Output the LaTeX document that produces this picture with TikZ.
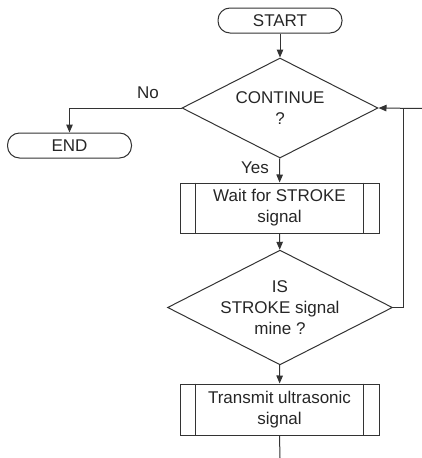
\documentclass[tikz,border=0pt]{standalone}
\usepackage{fontspec}
\setmainfont{Liberation Sans}
\usetikzlibrary{shapes.geometric,arrows.meta}
\begin{document}
\begin{tikzpicture}[x=1pt,y=-1pt,
  every node/.style={font=\fontsize{17}{21}\selectfont, text=black!85},
  line/.style={draw=black!80, line width=1pt},
  arr/.style={line, -{Triangle[length=8pt,width=6.5pt]}},
  term/.style={line, rectangle, rounded corners=12pt, minimum width=124pt, minimum height=25pt, inner sep=0pt},
  dec/.style={line, diamond, aspect=1.96, minimum width=196pt, minimum height=100pt, inner sep=0pt, align=center},
  proc/.style={line, rectangle, minimum width=199pt, minimum height=50pt, inner sep=0pt, align=center},
  lbl/.style={inner sep=0pt}
]
\useasboundingbox (0,0) rectangle (422,458);
\node[term] (start) at (280,20.5) {START};
\node[dec] (cont) at (280,108) {CONTINUE\\?};
\node[term] (end) at (69.5,145.5) {END};
\node[proc] (wait) at (279.5,208) {Wait for STROKE\\signal};
\node[dec] (mine) at (280,307.5) {IS\\STROKE signal\\mine ?};
\node[proc, minimum height=51pt] (tx) at (279.5,409.5) {Transmit ultrasonic\\signal};
\foreach \n in {wait,tx}{
  \draw[line] ([xshift=16pt]\n.north west) -- ([xshift=16pt]\n.south west);
  \draw[line] ([xshift=-16pt]\n.north east) -- ([xshift=-16pt]\n.south east);
}
\node[lbl] (no) at (148,93) {No};
\node[lbl] (yes) at (255,168) {Yes};
\coordinate (fbtop) at (403,108.5);
\coordinate (edge) at (422,108.5);
\coordinate (bot) at (280,458);
\draw[arr] (start) -- (cont);
\draw[arr] (cont.west) -| (end.north);
\draw[arr] (cont) -- (wait);
\draw[arr] (wait) -- (mine);
\draw[arr] (mine) -- (tx);
\draw[line] (mine.east) -| (fbtop);
\draw[arr] (edge) -- (cont.east);
\draw[line] (tx.south) -- (bot);
\end{tikzpicture}
\end{document}
